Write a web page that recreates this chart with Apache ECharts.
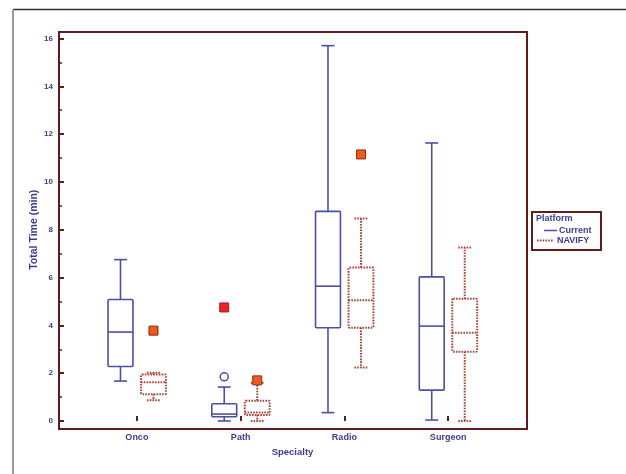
<!DOCTYPE html>
<html>
<head>
<meta charset="utf-8">
<script src="https://cdn.jsdelivr.net/npm/echarts@6/dist/echarts.min.js"></script>
<style>
html,body{margin:0;padding:0;background:#fff;}
#chart{width:626px;height:474px;}
</style>
</head>
<body>
<div id="chart"></div>
<script>
// ---- data ----
var categories = ['Onco', 'Path', 'Radio', 'Surgeon'];
// [low, Q1, median, Q3, high]
var currentBoxes = [
  [1.67, 2.28, 3.72, 5.08, 6.75],
  [0.00, 0.18, 0.29, 0.72, 1.42],
  [0.35, 3.90, 5.64, 8.77, 15.70],
  [0.04, 1.29, 3.97, 6.03, 11.63]
];
var navifyBoxes = [
  [0.87, 1.12, 1.62, 1.95, 2.02],
  [0.00, 0.25, 0.36, 0.85, 1.60],
  [2.24, 3.90, 5.05, 6.42, 8.47],
  [0.00, 2.90, 3.69, 5.11, 7.26]
];
// outliers: [categoryIndex, value]
var currentMildOutliers = [[1, 1.85]];
var currentExtremeOutliers = [[1, 4.75]];
var navifyOutliers = [[0, 3.78], [1, 1.70], [2, 11.15]];
var yTicks = [0, 2, 4, 6, 8, 10, 12, 14, 16];

// ---- styling ----
var FRAME = '#5e1c1c';
var BLUE = '#4b50a3';
var RED = '#a8463c';
var TXT = '#3a3d8c';
var FONT = '"Liberation Sans", Arial, sans-serif';

function boxData(arr) {
  return arr.map(function (b, i) { return [i].concat(b); });
}

function makeBoxRenderer(color, dash, lw, offFrac) {
  return function (params, api) {
    var cat = api.value(0);
    var band = api.size([1, 0])[0];
    var off = band * offFrac;
    var bw = band * 0.24;
    var cw = band * 0.125;
    var c = function (i) { return api.coord([cat, api.value(i)]); };
    var x = c(1)[0] + off;
    var yLow = c(1)[1], yQ1 = c(2)[1], yMed = c(3)[1], yQ3 = c(4)[1], yHigh = c(5)[1];
    var st = { stroke: color, lineWidth: lw, fill: null, lineDash: dash };
    function line(x1, y1, x2, y2) {
      return { type: 'line', shape: { x1: x1, y1: y1, x2: x2, y2: y2 }, style: st };
    }
    return {
      type: 'group',
      children: [
        line(x, yQ3, x, yHigh),
        line(x - cw / 2, yHigh, x + cw / 2, yHigh),
        line(x, yQ1, x, yLow),
        line(x - cw / 2, yLow, x + cw / 2, yLow),
        { type: 'rect', shape: { x: x - bw / 2, y: yQ3, width: bw, height: yQ1 - yQ3, r: 1 }, style: st },
        line(x - bw / 2, yMed, x + bw / 2, yMed)
      ]
    };
  };
}

function makePointRenderer(kind, fill, stroke, size, offFrac) {
  return function (params, api) {
    var band = api.size([1, 0])[0];
    var p = api.coord([api.value(0), api.value(1)]);
    var x = p[0] + band * offFrac, y = p[1];
    if (kind === 'circle') {
      return { type: 'circle', shape: { cx: x, cy: y, r: size / 2 }, style: { fill: '#fff', stroke: stroke, lineWidth: 1.5 } };
    }
    return { type: 'rect', shape: { x: x - size / 2, y: y - size / 2, width: size, height: size }, style: { fill: fill, stroke: stroke, lineWidth: 1 } };
  };
}

var OFF_L = -0.158, OFF_R = 0.16;

var chart = echarts.init(document.getElementById('chart'));
var option = {
  backgroundColor: '#fff',
  animation: false,
  textStyle: { fontFamily: FONT },
  grid: [
    { left: 59, top: 32, right: 99, bottom: 45, show: true, borderColor: FRAME, borderWidth: 2, backgroundColor: 'transparent' },
    { left: 85, top: 38.5, right: 126, bottom: 53 }
  ],
  xAxis: [
    { gridIndex: 0, type: 'value', show: false, min: 0, max: 1 },
    {
      gridIndex: 1, type: 'category', data: categories, offset: 8,
      axisLine: { show: false },
      axisTick: { show: true, inside: true, alignWithLabel: true, length: 5, lineStyle: { color: FRAME, width: 2 } },
      axisLabel: { color: TXT, fontSize: 9, fontWeight: 'bold', margin: 4, fontFamily: FONT },
      name: 'Specialty', nameLocation: 'middle', nameGap: 18, nameMoveOverlap: false,
      nameTextStyle: { color: TXT, fontSize: 9.5, fontWeight: 'bold', fontFamily: FONT },
      splitLine: { show: false }
    }
  ],
  yAxis: [
    { gridIndex: 0, type: 'value', show: false, min: 0, max: 1 },
    {
      gridIndex: 1, type: 'value', min: 0, max: 16, interval: 2, offset: 26,
      axisLine: { show: false },
      axisTick: { show: true, inside: true, length: 5, lineStyle: { color: FRAME, width: 2 } },
      minorTick: { show: true, splitNumber: 2, length: 3, lineStyle: { color: FRAME, width: 1.5 } },
      axisLabel: {
        color: TXT, fontSize: 8, fontWeight: 'bold', margin: 6, fontFamily: FONT,
        formatter: function (v) { return yTicks.indexOf(v) >= 0 ? String(v) : ''; }
      },
      splitLine: { show: false },
      minorSplitLine: { show: false },
      name: 'Total Time (min)', nameLocation: 'middle', nameGap: 19, nameRotate: 90, nameMoveOverlap: false,
      nameTextStyle: { color: TXT, fontSize: 10.5, fontWeight: 'bold', fontFamily: FONT }
    }
  ],
  series: [
    {
      name: 'Current', type: 'custom', xAxisIndex: 1, yAxisIndex: 1,
      data: boxData(currentBoxes), encode: { x: 0, y: [1, 2, 3, 4, 5] },
      renderItem: makeBoxRenderer(BLUE, null, 1.6, OFF_L), z: 3
    },
    {
      name: 'NAVIFY', type: 'custom', xAxisIndex: 1, yAxisIndex: 1,
      data: boxData(navifyBoxes), encode: { x: 0, y: [1, 2, 3, 4, 5] },
      renderItem: makeBoxRenderer(RED, [1.6, 1.2], 2, OFF_R), z: 3
    },
    {
      name: 'Current mild outliers', type: 'custom', xAxisIndex: 1, yAxisIndex: 1,
      data: currentMildOutliers, encode: { x: 0, y: 1 },
      renderItem: makePointRenderer('circle', '#fff', BLUE, 8, OFF_L), z: 4
    },
    {
      name: 'Current extreme outliers', type: 'custom', xAxisIndex: 1, yAxisIndex: 1,
      data: currentExtremeOutliers, encode: { x: 0, y: 1 },
      renderItem: makePointRenderer('square', '#e8262a', '#b01818', 9, OFF_L), z: 4
    },
    {
      name: 'NAVIFY outliers', type: 'custom', xAxisIndex: 1, yAxisIndex: 1,
      data: navifyOutliers, encode: { x: 0, y: 1 },
      renderItem: makePointRenderer('square', '#f05a1e', '#8c2a12', 9, OFF_R), z: 4
    }
  ],
  graphic: [
    // outer image frame
    { type: 'line', shape: { x1: 13, y1: 9.5, x2: 626, y2: 9.5 }, style: { stroke: '#333', lineWidth: 1.5 } },
    { type: 'line', shape: { x1: 13, y1: 9.5, x2: 13, y2: 474 }, style: { stroke: '#9a9a9a', lineWidth: 2 } },
    // legend
    { type: 'rect', shape: { x: 532, y: 212, width: 69, height: 38 }, style: { fill: '#fff', stroke: FRAME, lineWidth: 2 } },
    { type: 'text', style: { text: 'Platform', x: 536, y: 218.5, fill: TXT, font: 'bold 9px ' + FONT, verticalAlign: 'middle' } },
    { type: 'line', shape: { x1: 544, y1: 230.5, x2: 557, y2: 230.5 }, style: { stroke: BLUE, lineWidth: 1.5 } },
    { type: 'text', style: { text: 'Current', x: 559, y: 230.5, fill: TXT, font: 'bold 9px ' + FONT, verticalAlign: 'middle' } },
    { type: 'line', shape: { x1: 537, y1: 240.5, x2: 554, y2: 240.5 }, style: { stroke: RED, lineWidth: 2, lineDash: [1.6, 1.2] } },
    { type: 'text', style: { text: 'NAVIFY', x: 557, y: 240.5, fill: TXT, font: 'bold 9px ' + FONT, verticalAlign: 'middle' } }
  ]
};
chart.setOption(option);
</script>
</body>
</html>
